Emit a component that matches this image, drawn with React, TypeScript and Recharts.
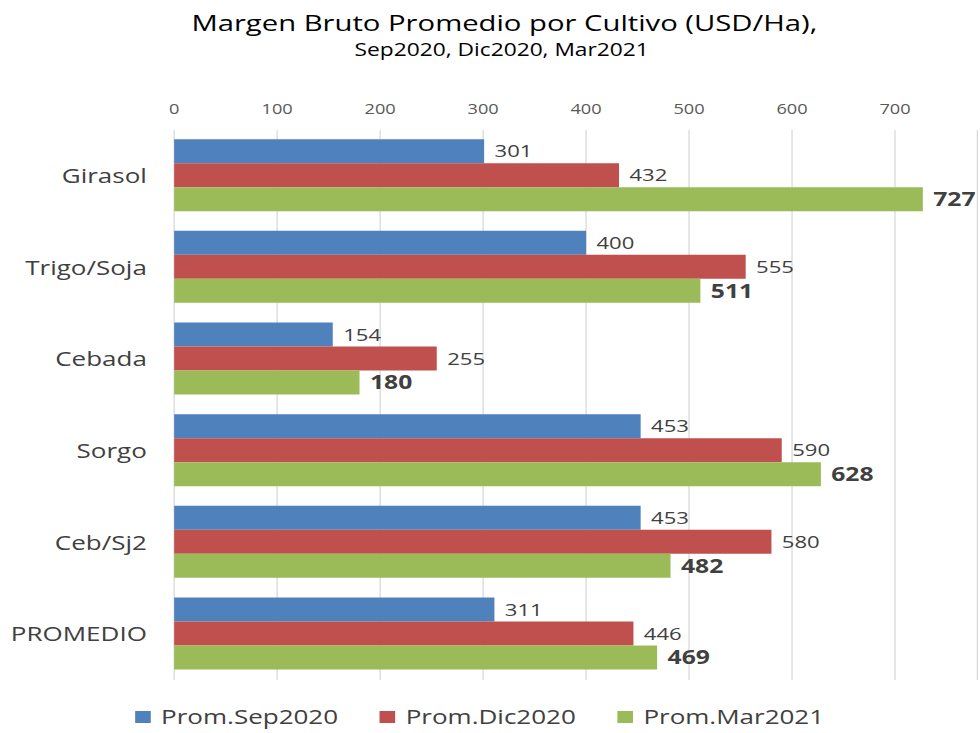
import React from "react";
import {
  BarChart,
  Bar,
  XAxis,
  YAxis,
  CartesianGrid,
  Legend,
  LabelList,
} from "recharts";

// values
const cultivos = ["Girasol", "Trigo/Soja", "Cebada", "Sorgo", "Ceb/Sj2", "PROMEDIO"];
const promSep2020 = [301, 400, 154, 453, 453, 311];
const promDic2020 = [432, 555, 255, 590, 580, 446];
const promMar2021 = [727, 511, 180, 628, 482, 469];
const seriesNames = ["Prom.Sep2020", "Prom.Dic2020", "Prom.Mar2021"];
const xTicks = [0, 100, 200, 300, 400, 500, 600, 700];

const data = cultivos.map((name, i) => ({
  name,
  sep: promSep2020[i],
  dic: promDic2020[i],
  mar: promMar2021[i],
}));

const FONT = "'Open Sans', 'DejaVu Sans', sans-serif";
// the source picture is stretched sideways, so the chart is drawn narrow and scaled
const INNER_W = 754;
const H = 733;

const renderLegend = (props: any) => {
  const items = [...(props.payload || [])].sort(
    (a: any, b: any) => seriesNames.indexOf(a.value) - seriesNames.indexOf(b.value)
  );
  return (
    <div
      style={{
        height: 45,
        paddingTop: 29,
        boxSizing: "border-box",
        display: "flex",
        justifyContent: "center",
        gap: 32,
        paddingRight: 14,
        fontFamily: FONT,
        fontSize: 20,
        lineHeight: "20px",
        color: "#404040",
      }}
    >
      {items.map((it: any) => (
        <div key={it.value} style={{ display: "flex", alignItems: "center" }}>
          <span
            style={{
              display: "inline-block",
              width: 12,
              height: 12,
              background: it.color,
              marginRight: 8,
            }}
          />
          <span>{it.value}</span>
        </div>
      ))}
    </div>
  );
};

export default function App() {
  return (
    <div
      style={{
        position: "fixed",
        left: 0,
        top: 0,
        width: 980,
        height: H,
        overflow: "hidden",
        background: "#fff",
      }}
    >
      <style>{".recharts-surface{overflow:visible}"}</style>
      <div
        style={{
          width: INNER_W,
          height: H,
          position: "relative",
          transform: `scale(${980 / INNER_W}, 1)`,
          transformOrigin: "0 0",
        }}
      >
        <svg
          width={INNER_W}
          height={80}
          style={{ position: "absolute", left: 0, top: 0 }}
        >
          <text
            x={388}
            y={31}
            textAnchor="middle"
            fontFamily={FONT}
            fontSize={22.5}
            fill="#000"
          >
            Margen Bruto Promedio por Cultivo (USD/Ha),
          </text>
          <text
            x={386}
            y={56}
            textAnchor="middle"
            fontFamily={FONT}
            fontSize={17.5}
            fill="#000"
          >
            Sep2020, Dic2020, Mar2021
          </text>
        </svg>
        <BarChart
          width={INNER_W}
          height={H}
          data={data}
          layout="vertical"
          margin={{ top: 100, right: 2, bottom: 8, left: 0 }}
          barCategoryGap="10%"
          barGap={0}
          style={{ position: "absolute", left: 0, top: 0, overflow: "visible" }}
        >
          <CartesianGrid horizontal={false} stroke="#d9d9d9" />
          <XAxis
            type="number"
            orientation="top"
            domain={[0, 780]}
            ticks={xTicks}
            height={30}
            axisLine={false}
            tickLine={false}
            tickSize={0}
            tickMargin={16}
            tick={{ fill: "#595959", fontSize: 14, fontFamily: FONT }}
          />
          <YAxis
            type="category"
            dataKey="name"
            width={134}
            axisLine={false}
            tickLine={false}
            tickSize={0}
            tickMargin={21}
            tick={{ fill: "#404040", fontSize: 20, fontFamily: FONT }}
          />
          <Legend verticalAlign="bottom" height={45} content={renderLegend} />
          <Bar dataKey="sep" name={seriesNames[0]} fill="#4F81BD" isAnimationActive={false}>
            <LabelList
              dataKey="sep"
              position="right"
              offset={8}
              fill="#404040"
              fontSize={17}
              fontFamily={FONT}
            />
          </Bar>
          <Bar dataKey="dic" name={seriesNames[1]} fill="#C0504D" isAnimationActive={false}>
            <LabelList
              dataKey="dic"
              position="right"
              offset={8}
              fill="#404040"
              fontSize={17}
              fontFamily={FONT}
            />
          </Bar>
          <Bar dataKey="mar" name={seriesNames[2]} fill="#9BBB59" isAnimationActive={false}>
            <LabelList
              dataKey="mar"
              position="right"
              offset={8}
              fill="#404040"
              fontSize={19}
              fontWeight="bold"
              fontFamily={FONT}
            />
          </Bar>
        </BarChart>
      </div>
    </div>
  );
}
